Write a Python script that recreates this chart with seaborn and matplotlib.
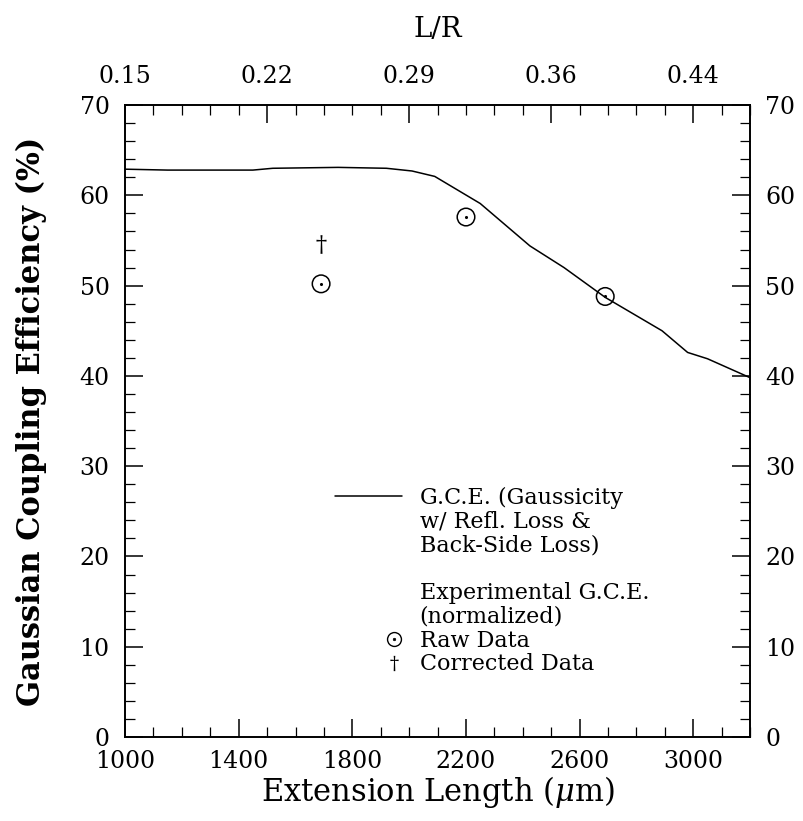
import numpy as np
import pandas as pd
import matplotlib
matplotlib.use("Agg")
import matplotlib.pyplot as plt
from matplotlib.lines import Line2D
from matplotlib.legend_handler import HandlerBase
from matplotlib.ticker import MultipleLocator, FixedLocator
import seaborn as sns

# ---- data ----
gce_length = [1000, 1150, 1450, 1520, 1750, 1920, 2010, 2090, 2250, 2425, 2545, 2690, 2890, 2980, 3050, 3200]
gce_value = [62.9, 62.8, 62.8, 63.0, 63.1, 63.0, 62.7, 62.1, 59.1, 54.4, 52.0, 48.7, 45.0, 42.6, 41.9, 39.8]

raw_length = [1690, 2200, 2690]
raw_value = [50.2, 57.6, 48.8]

corr_length = [1690]
corr_value = [54.6]

top_tick_pos = [1000, 1500, 2000, 2500, 3000]
top_tick_labels = ["0.15", "0.22", "0.29", "0.36", "0.44"]

gce_df = pd.DataFrame({"length": gce_length, "gce": gce_value})
raw_df = pd.DataFrame({"length": raw_length, "gce": raw_value})
corr_df = pd.DataFrame({"length": corr_length, "gce": corr_value})

sns.set_theme(style="ticks")
plt.rcParams["font.family"] = ["DejaVu Serif"]
plt.rcParams["mathtext.fontset"] = "dejavuserif"
plt.rcParams["text.color"] = "black"
plt.rcParams["axes.labelcolor"] = "black"
plt.rcParams["xtick.color"] = "black"
plt.rcParams["ytick.color"] = "black"

fig = plt.figure(figsize=(8.04, 8.21), dpi=100)
ax = fig.add_axes([0.1555, 0.1023, 0.7775, 0.7697])

sns.lineplot(data=gce_df, x="length", y="gce", ax=ax, color="black", lw=1.1,
             sort=False, legend=False)
sns.scatterplot(data=raw_df, x="length", y="gce", ax=ax, marker="o", s=160,
                facecolor="none", edgecolor="black", linewidth=1.1, legend=False)
sns.scatterplot(data=raw_df, x="length", y="gce", ax=ax, marker="o", s=5,
                color="black", linewidth=0, legend=False)
sns.scatterplot(data=corr_df, x="length", y="gce", ax=ax, marker=r"$\dagger$", s=180,
                color="black", linewidth=0, legend=False)

ax.set_xlim(1000, 3200)
ax.set_ylim(0, 70)

for s in ax.spines.values():
    s.set_linewidth(1.4)
    s.set_color("black")
    s.set_visible(True)

ax.xaxis.set_major_locator(FixedLocator([1000, 1400, 1800, 2200, 2600, 3000]))
ax.xaxis.set_minor_locator(MultipleLocator(100))
ax.yaxis.set_major_locator(MultipleLocator(10))
ax.yaxis.set_minor_locator(MultipleLocator(2))
ax.tick_params(axis="both", which="major", direction="in", length=13, width=1.1,
               labelsize=17, colors="black", pad=11)
ax.tick_params(axis="both", which="minor", direction="in", length=7, width=0.9)
ax.tick_params(axis="y", which="both", right=True, labelright=True)
ax.tick_params(axis="x", which="both", top=False)
ax.tick_params(axis="x", which="major", pad=9)

ax.set_xlabel(r"Extension Length ($\mu$m)", fontsize=22, color="black")
ax.set_ylabel("Gaussian Coupling Efficiency (%)", fontsize=22, fontweight="bold",
              color="black")
ax.xaxis.set_label_coords(0.5, -0.058)
ax.yaxis.set_label_coords(-0.125, 0.5)

top = ax.twiny()
top.set_xlim(ax.get_xlim())
top.xaxis.set_major_locator(FixedLocator(top_tick_pos))
top.set_xticklabels(top_tick_labels)
top.xaxis.set_minor_locator(MultipleLocator(100))
top.tick_params(axis="x", which="major", direction="in", length=13, width=1.1,
                labelsize=17, colors="black", pad=12)
top.tick_params(axis="x", which="minor", direction="in", length=7, width=0.9)
top.set_xlabel("L/R", fontsize=20, color="black")
top.xaxis.set_label_coords(0.5, 1.108)
for s in top.spines.values():
    s.set_visible(False)


class MarkerRight(HandlerBase):
    """Draw the handle's markers near the right end of the handle box."""
    def __init__(self, frac=0.88, **kw):
        super().__init__(**kw)
        self.frac = frac

    def create_artists(self, legend, orig_handle, xdescent, ydescent, width,
                       height, fontsize, trans):
        x = -xdescent + width * self.frac
        y = -ydescent + height / 2
        parts = orig_handle if isinstance(orig_handle, tuple) else (orig_handle,)
        arts = []
        for h in parts:
            l = Line2D([x], [y], marker=h.get_marker(), markersize=h.get_markersize(),
                       markerfacecolor=h.get_markerfacecolor(),
                       markeredgecolor=h.get_markeredgecolor(),
                       markeredgewidth=h.get_markeredgewidth(), linestyle="none")
            l.set_transform(trans)
            arts.append(l)
        return arts


# legend
h_line = Line2D([], [], color="black", lw=1.1)
h_blank = Line2D([], [], linestyle="none")
h_circ = Line2D([], [], marker="o", markersize=10, markerfacecolor="none",
                markeredgecolor="black", linestyle="none", markeredgewidth=1.0)
h_dot = Line2D([], [], marker="o", markersize=1.8, markerfacecolor="black",
               markeredgecolor="black", linestyle="none", markeredgewidth=0.5)
h_dag = Line2D([], [], marker=r"$\dagger$", markersize=11, markerfacecolor="black",
               markeredgecolor="black", linestyle="none", markeredgewidth=0.0)
h_raw = (h_circ, h_dot)

handles = [h_line, h_blank, h_blank, h_blank, h_blank, h_blank, h_raw, h_dag]
labels = ["G.C.E. (Gaussicity", "w/ Refl. Loss &", "Back-Side Loss)", " ",
          "Experimental G.C.E.", "(normalized)", "Raw Data", "Corrected Data"]
ax.legend(handles, labels, loc="upper left", bbox_to_anchor=(0.336, 0.396),
          frameon=False, fontsize=16, handlelength=3.0, handletextpad=0.8,
          labelspacing=0.08, borderpad=0, borderaxespad=0, labelcolor="black",
          handler_map={h_raw: MarkerRight(0.88), h_dag: MarkerRight(0.88)})

fig.savefig("out.png", dpi=100)
